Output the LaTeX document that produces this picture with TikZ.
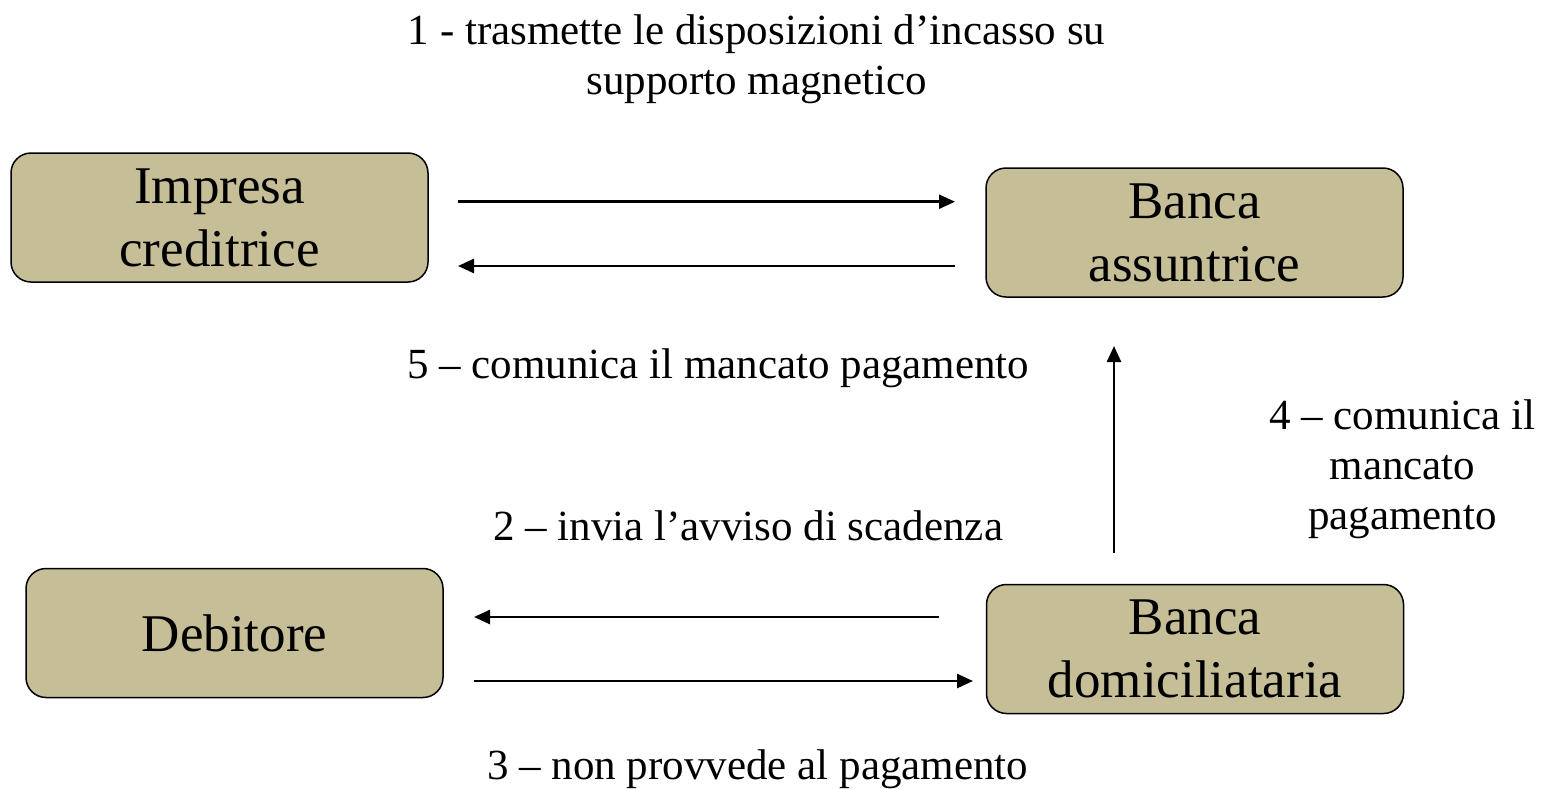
\documentclass[tikz,border=0pt]{standalone}
\usepackage{fontspec}
\setmainfont{Liberation Serif}
\usetikzlibrary{arrows.meta}
\definecolor{boxfill}{RGB}{197,190,151}
\tikzset{
  entity/.style={draw=black, line width=1.5pt, fill=boxfill, rounded corners=20pt,
    minimum width=417pt, minimum height=129pt, inner sep=0pt, align=center,
    font=\fontsize{53}{63}\selectfont},
  lbl/.style={inner sep=0pt, font=\fontsize{43}{50}\selectfont},
  flow/.style={line width=2.5pt, -{Triangle[length=16pt,width=14pt]}}
}
\begin{document}
\begin{tikzpicture}[x=1pt,y=-1pt]
\useasboundingbox (0,0) rectangle (1542,788);
\node[entity] (imp) at (219.5,217.5) {Impresa\\creditrice};
\node[entity] (bass) at (1194.5,232.5) {Banca\\assuntrice};
\node[entity] (deb) at (234.5,633) {Debitore};
\node[entity] (bdom) at (1195,649) {Banca\\domiciliataria};

\coordinate (a1s) at (458,201.7);
\coordinate (a1e) at (955,201.7);
\coordinate (a5s) at (955,266);
\coordinate (a5e) at (458,266);
\coordinate (a4s) at (1114,553);
\coordinate (a4e) at (1114,346);
\coordinate (a2s) at (939,617);
\coordinate (a2e) at (474,617);
\coordinate (a3s) at (474,681);
\coordinate (a3e) at (973,681);

\draw[flow] (a1s) -- (a1e);
\draw[flow] (a5s) -- (a5e);
\draw[flow] (a4s) -- (a4e);
\draw[flow] (a2s) -- (a2e);
\draw[flow] (a3s) -- (a3e);

\node[lbl, align=center, anchor=base] (l1) at (756.5,94) {1 - trasmette le disposizioni d’incasso su\\supporto magnetico};
\node[lbl, anchor=base west] (l5) at (407,378) {5 – comunica il mancato pagamento};
\node[lbl, align=center, anchor=base] (l4) at (1402.5,529) {4 – comunica il\\mancato\\pagamento};
\node[lbl, anchor=base west] (l2) at (493,540) {2 – invia l’avviso di scadenza};
\node[lbl, anchor=base west] (l3) at (487,779) {3 – non provvede al pagamento};
\end{tikzpicture}
\end{document}
